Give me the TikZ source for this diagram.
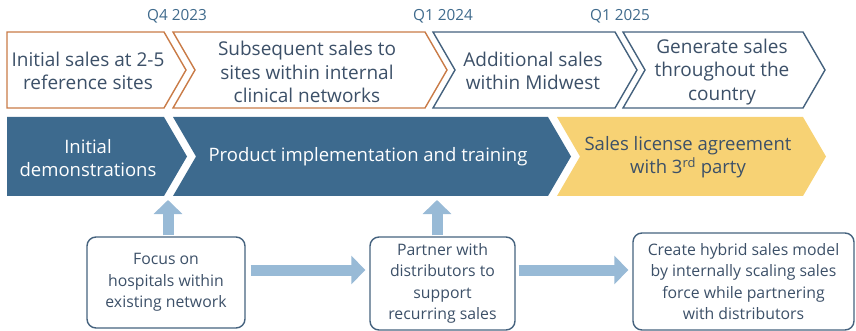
\documentclass[tikz,border=0pt]{standalone}
\usepackage{fontspec}
\setmainfont{Open Sans}
\usetikzlibrary{arrows.meta}
\definecolor{navy}{HTML}{3D6A8E}
\definecolor{gold}{HTML}{F7D274}
\definecolor{rust}{HTML}{C97B47}
\definecolor{slate}{HTML}{3C5068}
\definecolor{edge}{HTML}{45627E}
\definecolor{sky}{HTML}{98BAD6}
\definecolor{qtr}{HTML}{3F6A8C}
\begin{document}
\begin{tikzpicture}[x=1pt,y=-1pt,
    outo/.style = {draw=rust, line width=1.4pt, fill=white},
    outb/.style = {draw=edge, line width=1.4pt, fill=white},
    toptext/.style = {align=center, text=slate, font=\fontsize{19}{23.5}\selectfont},
    midtext/.style = {align=center, text=white, font=\fontsize{18.5}{23}\selectfont},
    qlabel/.style = {text=qtr, font=\fontsize{15.3}{17}\selectfont},
    box/.style = {draw=edge, line width=1.4pt, rounded corners=9pt, align=center, text=slate, font=\fontsize{15.8}{21.5}\selectfont},
    push/.style = {draw=sky, line width=11pt, -{Triangle[width=28pt,length=14pt]}, shorten <=1pt, shorten >=4pt}]
    \useasboundingbox (0,0) rectangle (856,331);
    % top row
    \draw[outo] (7,32) -- (164,32) -- (186,70) -- (164,108) -- (7,108) -- cycle;
    \draw[outo] (173,32) -- (425,32) -- (447,70) -- (425,108) -- (173,108) -- (195,70) -- cycle;
    \draw[outb] (433,32) -- (615,32) -- (637,70) -- (615,108) -- (433,108) -- (455,70) -- cycle;
    \draw[outb] (623,32) -- (803,32) -- (825,70) -- (803,108) -- (623,108) -- (645,70) -- cycle;
    \node[toptext] (t1) at (88,71) {Initial sales at 2-5\\reference sites};
    \node[toptext] (t2) at (307,72) {Subsequent sales to\\sites within internal\\clinical networks};
    \node[toptext] (t3) at (533,71) {Additional sales\\within Midwest};
    \node[toptext] (t4) at (722,72) {Generate sales\\throughout the\\country};
    \node[qlabel] (q1) at (177,16) {Q4 2023};
    \node[qlabel] (q2) at (443,16) {Q1 2024};
    \node[qlabel] (q3) at (620,16) {Q1 2025};
    % middle row
    \fill[navy] (7,117) -- (164,117) -- (187,156.5) -- (164,196) -- (7,196) -- cycle;
    \fill[navy] (173,117) -- (548,117) -- (571,156.5) -- (548,196) -- (173,196) -- (196,156.5) -- cycle;
    \fill[gold] (557,117) -- (803,117) -- (826,156.5) -- (803,196) -- (557,196) -- (580,156.5) -- cycle;
    \node[midtext] (m1) at (88,158) {Initial\\demonstrations};
    \node[midtext] (m2) at (368,157) {Product implementation and training};
    \node[toptext, font=\fontsize{18.5}{23}\selectfont] (m3) at (688,157) {Sales license agreement\\with 3\textsuperscript{rd} party};
    \coordinate (u1) at (168,196);
    \coordinate (u2) at (437,196);
    % bottom row
    \node[box, minimum width=158pt, minimum height=91pt] (focus) at (166,282.5) {Focus on\\hospitals within\\existing network};
    \node[box, minimum width=145pt, minimum height=93pt] (partner) at (442.5,283.5) {Partner with\\distributors to\\support\\recurring sales};
    \node[box, minimum width=221pt, minimum height=97pt] (hybrid) at (743.5,281.5) {Create hybrid sales model\\by internally scaling sales\\force while partnering\\with distributors};
    \draw[push] (focus.north -| u1) -- (u1);
    \draw[push] (partner.north -| u2) -- (u2);
    \draw[push, shorten <=5pt] (focus.east |- 0,270) -- (partner.west |- 0,270);
    \draw[push, shorten <=3pt] (partner.east |- 0,270) -- (hybrid.west |- 0,270);
\end{tikzpicture}
\end{document}
